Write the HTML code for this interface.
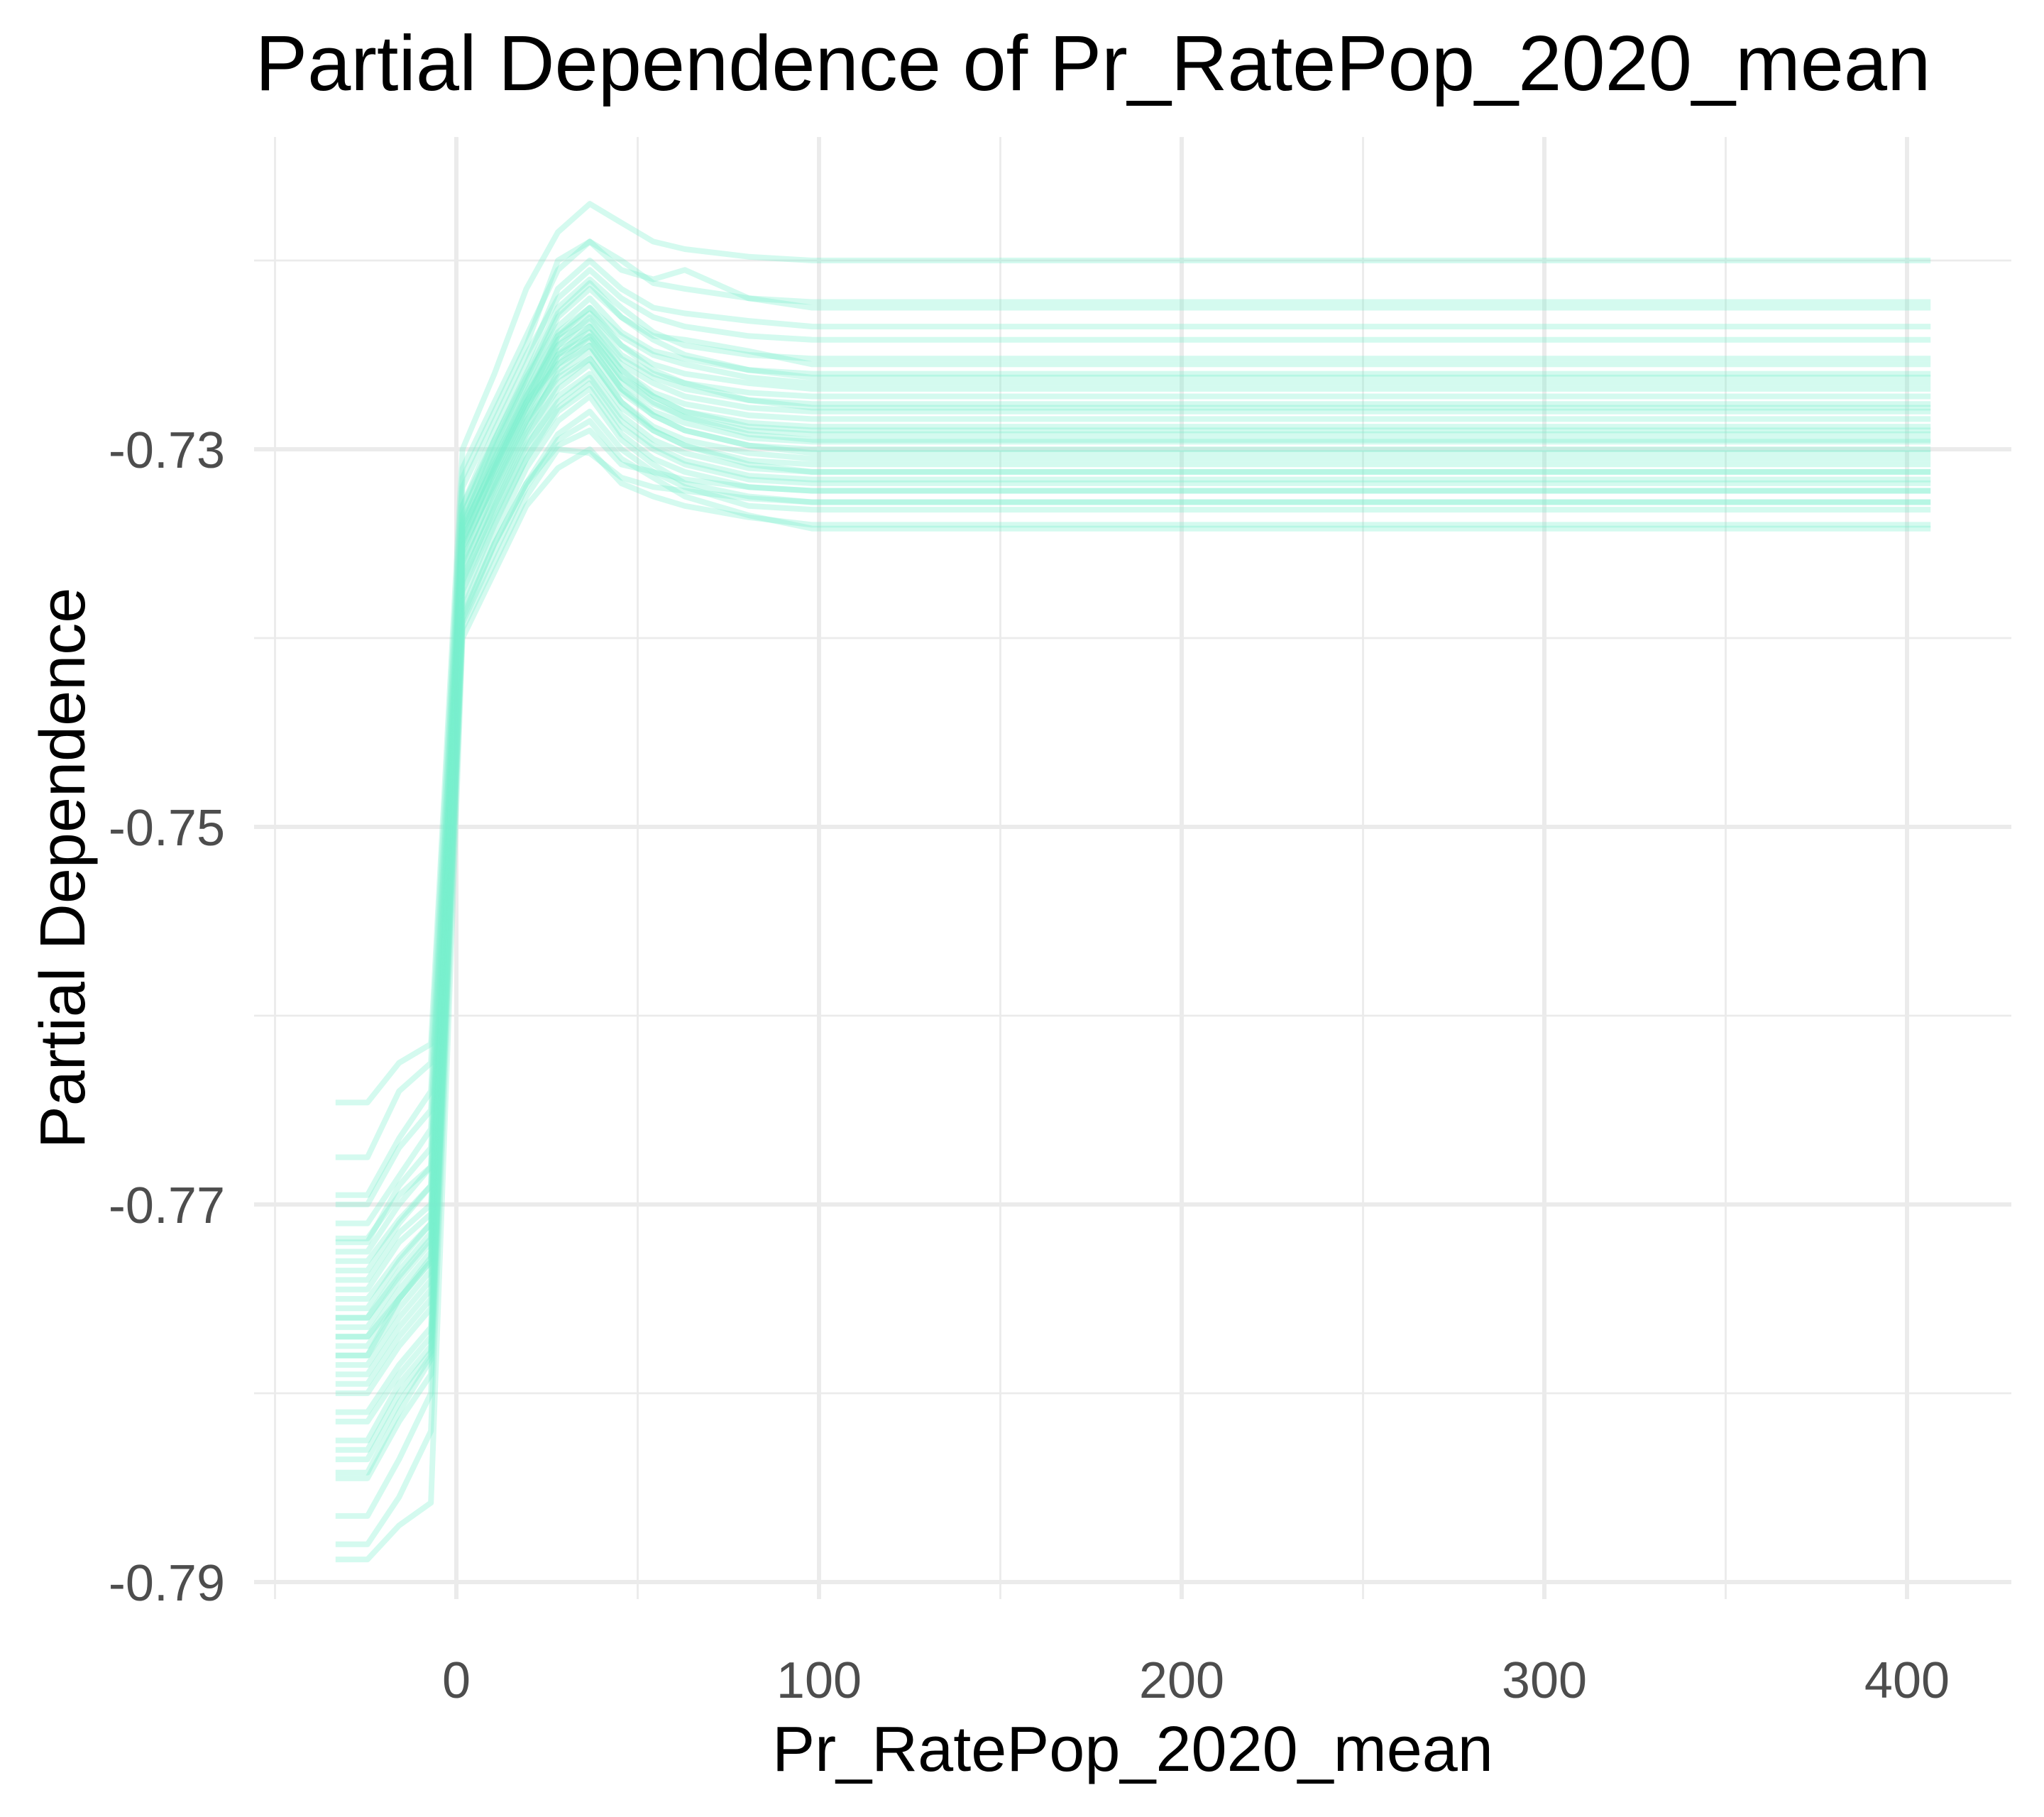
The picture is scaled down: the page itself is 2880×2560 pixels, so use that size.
<!DOCTYPE html>
<html><head><meta charset="utf-8"><style>
html,body{margin:0;padding:0;background:#fff;}
svg{display:block;font-family:"Liberation Sans",Arial,sans-serif;}
</style></head><body>
<svg id="chart" width="2880" height="2560" viewBox="0 0 2880 2560" xmlns="http://www.w3.org/2000/svg">
<rect x="0" y="0" width="2880" height="2560" fill="#fff"/>
<g id="grid"></g>
<g id="lines"></g>
<g id="axes"></g>
<text x="1540" y="127" font-size="110" text-anchor="middle" fill="#000">Partial Dependence of Pr_RatePop_2020_mean</text>
<text x="1596" y="2495" font-size="90" text-anchor="middle" fill="#000">Pr_RatePop_2020_mean</text>
<text x="0" y="0" font-size="90" text-anchor="middle" fill="#000" transform="translate(119,1223) rotate(-90)">Partial Dependence</text>
</svg>
<script>
const xGrid = [-33.3,-24.5,-15.8,-7,1.7,10.5,19.3,28,36.8,45.5,54.3,63,80.6,98.1,106.8,406.5];
const xMajorTicks = [0,100,200,300,400];
const xMinorTicks = [-50,50,150,250,350];
const yMajorTicks = [-0.73,-0.75,-0.77,-0.79];
const yMinorTicks = [-0.72,-0.74,-0.76,-0.78];
const yTickLabels = ["-0.73","-0.75","-0.77","-0.79"];
const xTickLabels = ["0","100","200","300","400"];
const curve01 = [-0.7646,-0.7646,-0.7625,-0.7615,-0.7300,-0.7260,-0.7215,-0.7185,-0.7170,-0.7180,-0.7190,-0.7194,-0.7198,-0.7200,-0.7200,-0.7200];
const curve02 = [-0.7675,-0.7675,-0.7640,-0.7625,-0.7310,-0.7275,-0.7240,-0.7205,-0.7190,-0.7200,-0.7212,-0.7215,-0.7220,-0.7222,-0.7222,-0.7222];
const curve03 = [-0.7695,-0.7695,-0.7665,-0.7640,-0.7315,-0.7280,-0.7245,-0.7200,-0.7190,-0.7205,-0.7210,-0.7205,-0.7220,-0.7225,-0.7225,-0.7225];
const curve04 = [-0.7700,-0.7700,-0.7670,-0.7650,-0.7330,-0.7290,-0.7255,-0.7215,-0.7200,-0.7215,-0.7225,-0.7228,-0.7232,-0.7235,-0.7235,-0.7235];
const curve05 = [-0.7710,-0.7710,-0.7685,-0.7660,-0.7320,-0.7285,-0.7250,-0.7220,-0.7205,-0.7220,-0.7230,-0.7235,-0.7240,-0.7242,-0.7242,-0.7242];
const curve06 = [-0.7720,-0.7720,-0.7690,-0.7670,-0.7335,-0.7295,-0.7260,-0.7225,-0.7210,-0.7225,-0.7238,-0.7245,-0.7250,-0.7252,-0.7252,-0.7252];
const curve07 = [-0.7725,-0.7725,-0.7700,-0.7680,-0.7340,-0.7300,-0.7265,-0.7230,-0.7215,-0.7230,-0.7240,-0.7242,-0.7248,-0.7255,-0.7255,-0.7255];
const curve08 = [-0.7735,-0.7735,-0.7710,-0.7690,-0.7330,-0.7295,-0.7262,-0.7235,-0.7220,-0.7238,-0.7248,-0.7252,-0.7258,-0.7260,-0.7260,-0.7260];
const curve09 = [-0.7740,-0.7740,-0.7715,-0.7700,-0.7345,-0.7305,-0.7270,-0.7238,-0.7225,-0.7240,-0.7250,-0.7255,-0.7262,-0.7265,-0.7265,-0.7265];
const curve10 = [-0.7745,-0.7745,-0.7720,-0.7705,-0.7338,-0.7302,-0.7268,-0.7240,-0.7228,-0.7245,-0.7255,-0.7260,-0.7265,-0.7268,-0.7268,-0.7268];
const curve11 = [-0.7755,-0.7755,-0.7730,-0.7710,-0.7350,-0.7310,-0.7275,-0.7245,-0.7230,-0.7250,-0.7260,-0.7265,-0.7270,-0.7272,-0.7272,-0.7272];
const curve12 = [-0.7760,-0.7760,-0.7735,-0.7715,-0.7342,-0.7308,-0.7272,-0.7242,-0.7232,-0.7252,-0.7262,-0.7268,-0.7274,-0.7276,-0.7276,-0.7276];
const curve13 = [-0.7765,-0.7765,-0.7740,-0.7720,-0.7355,-0.7315,-0.7280,-0.7250,-0.7235,-0.7255,-0.7265,-0.7272,-0.7278,-0.7280,-0.7280,-0.7280];
const curve14 = [-0.7770,-0.7770,-0.7745,-0.7725,-0.7348,-0.7312,-0.7278,-0.7248,-0.7238,-0.7258,-0.7270,-0.7276,-0.7282,-0.7284,-0.7284,-0.7284];
const curve15 = [-0.7775,-0.7775,-0.7750,-0.7730,-0.7360,-0.7320,-0.7285,-0.7255,-0.7240,-0.7262,-0.7272,-0.7280,-0.7286,-0.7288,-0.7288,-0.7288];
const curve16 = [-0.7780,-0.7780,-0.7755,-0.7735,-0.7352,-0.7318,-0.7282,-0.7252,-0.7242,-0.7265,-0.7276,-0.7283,-0.7290,-0.7292,-0.7292,-0.7292];
const curve17 = [-0.7785,-0.7785,-0.7760,-0.7740,-0.7365,-0.7325,-0.7290,-0.7258,-0.7245,-0.7268,-0.7280,-0.7286,-0.7294,-0.7296,-0.7296,-0.7296];
const curve18 = [-0.7790,-0.7790,-0.7765,-0.7745,-0.7358,-0.7322,-0.7288,-0.7260,-0.7248,-0.7270,-0.7282,-0.7290,-0.7298,-0.7300,-0.7300,-0.7300];
const curve19 = [-0.7770,-0.7770,-0.7750,-0.7730,-0.7345,-0.7312,-0.7278,-0.7250,-0.7240,-0.7262,-0.7275,-0.7283,-0.7292,-0.7295,-0.7295,-0.7295];
const curve20 = [-0.7795,-0.7795,-0.7770,-0.7750,-0.7370,-0.7330,-0.7295,-0.7265,-0.7252,-0.7275,-0.7288,-0.7295,-0.7302,-0.7305,-0.7305,-0.7305];
const curve21 = [-0.7750,-0.7750,-0.7728,-0.7710,-0.7340,-0.7305,-0.7272,-0.7245,-0.7235,-0.7258,-0.7272,-0.7280,-0.7288,-0.7290,-0.7290,-0.7290];
const curve22 = [-0.7800,-0.7800,-0.7775,-0.7755,-0.7362,-0.7328,-0.7292,-0.7268,-0.7255,-0.7278,-0.7290,-0.7298,-0.7306,-0.7308,-0.7308,-0.7308];
const curve23 = [-0.7730,-0.7730,-0.7708,-0.7690,-0.7342,-0.7308,-0.7275,-0.7255,-0.7245,-0.7268,-0.7282,-0.7290,-0.7298,-0.7302,-0.7302,-0.7302];
const curve24 = [-0.7810,-0.7810,-0.7785,-0.7765,-0.7372,-0.7335,-0.7300,-0.7272,-0.7260,-0.7282,-0.7295,-0.7302,-0.7310,-0.7312,-0.7312,-0.7312];
const curve25 = [-0.7815,-0.7815,-0.7790,-0.7770,-0.7368,-0.7332,-0.7298,-0.7275,-0.7262,-0.7285,-0.7298,-0.7306,-0.7314,-0.7316,-0.7316,-0.7316];
const curve26 = [-0.7825,-0.7825,-0.7795,-0.7775,-0.7375,-0.7338,-0.7305,-0.7278,-0.7265,-0.7288,-0.7300,-0.7308,-0.7316,-0.7318,-0.7318,-0.7318];
const curve27 = [-0.7830,-0.7830,-0.7800,-0.7778,-0.7380,-0.7340,-0.7305,-0.7280,-0.7268,-0.7292,-0.7305,-0.7312,-0.7320,-0.7322,-0.7322,-0.7322];
const curve28 = [-0.7835,-0.7835,-0.7805,-0.7780,-0.7385,-0.7345,-0.7310,-0.7285,-0.7272,-0.7295,-0.7308,-0.7318,-0.7325,-0.7328,-0.7328,-0.7328];
const curve29 = [-0.7842,-0.7842,-0.7810,-0.7782,-0.7388,-0.7350,-0.7318,-0.7292,-0.7280,-0.7300,-0.7312,-0.7320,-0.7330,-0.7332,-0.7332,-0.7332];
const curve30 = [-0.7845,-0.7845,-0.7815,-0.7790,-0.7392,-0.7355,-0.7320,-0.7295,-0.7285,-0.7305,-0.7315,-0.7325,-0.7335,-0.7342,-0.7342,-0.7342];
const curve31 = [-0.7865,-0.7865,-0.7835,-0.7800,-0.7390,-0.7350,-0.7318,-0.7298,-0.7290,-0.7308,-0.7312,-0.7316,-0.7320,-0.7322,-0.7322,-0.7322];
const curve32 = [-0.7880,-0.7880,-0.7855,-0.7820,-0.7395,-0.7360,-0.7325,-0.7300,-0.7302,-0.7315,-0.7320,-0.7322,-0.7326,-0.7328,-0.7328,-0.7328];
const curve33 = [-0.7888,-0.7888,-0.7870,-0.7858,-0.7400,-0.7365,-0.7330,-0.7310,-0.7300,-0.7318,-0.7325,-0.7330,-0.7336,-0.7340,-0.7340,-0.7340];
const curve34 = [-0.7718,-0.7718,-0.7695,-0.7680,-0.7335,-0.7298,-0.7262,-0.7228,-0.7212,-0.7230,-0.7242,-0.7250,-0.7258,-0.7262,-0.7262,-0.7262];
const curve35 = [-0.7780,-0.7780,-0.7750,-0.7728,-0.7348,-0.7310,-0.7275,-0.7240,-0.7225,-0.7245,-0.7258,-0.7265,-0.7274,-0.7278,-0.7278,-0.7278];
const curve36 = [-0.7760,-0.7760,-0.7738,-0.7718,-0.7352,-0.7318,-0.7285,-0.7262,-0.7252,-0.7275,-0.7290,-0.7298,-0.7308,-0.7312,-0.7312,-0.7312];
const curves = [curve01,curve02,curve03,curve04,curve05,curve06,curve07,curve08,curve09,curve10,curve11,curve12,curve13,curve14,curve15,curve16,curve17,curve18,curve19,curve20,curve21,curve22,curve23,curve24,curve25,curve26,curve27,curve28,curve29,curve30,curve31,curve32,curve33,curve34,curve35,curve36];

const NS = "http://www.w3.org/2000/svg";
const panel = {left: 358, right: 2834, top: 193, bottom: 2253};
function xScale(v){ return 643 + (v - 0) * 5.11; }
function yScale(v){ return 633 + (-0.73 - v) * 26600; }

const grid = document.getElementById('grid');
const axes = document.getElementById('axes');
function gl(x1,y1,x2,y2,w,name){
  const l = document.createElementNS(NS,'line');
  l.setAttribute('x1',x1); l.setAttribute('y1',y1); l.setAttribute('x2',x2); l.setAttribute('y2',y2);
  l.setAttribute('stroke','#EBEBEB'); l.setAttribute('stroke-width',w);
  
  
  grid.appendChild(l);
}
yMinorTicks.forEach(v => gl(panel.left, yScale(v), panel.right, yScale(v), 2.8, 'y-minor-gridline'));
xMinorTicks.forEach(v => gl(xScale(v), panel.top, xScale(v), panel.bottom, 2.8, 'x-minor-gridline'));
yMajorTicks.forEach(v => gl(panel.left, yScale(v), panel.right, yScale(v), 6, 'y-major-gridline'));
xMajorTicks.forEach(v => gl(xScale(v), panel.top, xScale(v), panel.bottom, 6, 'x-major-gridline'));

yMajorTicks.forEach((v,i) => {
  const t = document.createElementNS(NS,'text');
  t.setAttribute('x', 317); t.setAttribute('y', yScale(v) + 26);
  t.setAttribute('text-anchor','end'); t.setAttribute('font-size','72'); t.setAttribute('fill','#4D4D4D');
  t.textContent = yTickLabels[i];
  
  
  axes.appendChild(t);
});
xMajorTicks.forEach((v,i) => {
  const t = document.createElementNS(NS,'text');
  t.setAttribute('x', xScale(v)); t.setAttribute('y', 2392);
  t.setAttribute('text-anchor','middle'); t.setAttribute('font-size','72'); t.setAttribute('fill','#4D4D4D');
  t.textContent = xTickLabels[i];
  
  
  axes.appendChild(t);
});

const lines = document.getElementById('lines');
curves.forEach((c) => {
  const p = document.createElementNS(NS,'polyline');
  p.setAttribute('points', c.map((v,j) => xScale(xGrid[j]).toFixed(1) + ',' + yScale(v).toFixed(1)).join(' '));
  p.setAttribute('fill','none');
  p.setAttribute('stroke','rgb(122,240,204)');
  p.setAttribute('stroke-opacity','0.32');
  p.setAttribute('stroke-width','8');
  p.setAttribute('stroke-linejoin','round');
  
  
  lines.appendChild(p);
});
</script>
</body></html>
